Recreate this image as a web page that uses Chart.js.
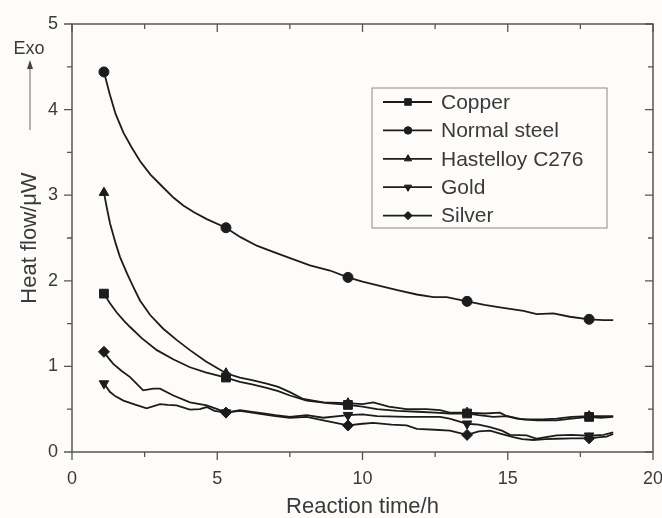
<!DOCTYPE html>
<html lang="en">
<head>
<meta charset="UTF-8">
<title>Heat flow vs reaction time</title>
<script src="https://cdn.jsdelivr.net/npm/chart.js"></script>
<style>
  html, body { margin: 0; padding: 0; background: #fdfcfa; }
  #wrap { width: 662px; height: 518px; }
</style>
</head>
<body>
<div id="wrap"><canvas id="chart"></canvas></div>
<script>
// axis ticks
const xTicks = [0, 5, 10, 15, 20];
const xMinor = [2.5, 7.5, 12.5, 17.5];
const yTicks = [0, 1, 2, 3, 4, 5];
const yMinor = [0.5, 1.5, 2.5, 3.5, 4.5];

// times where a symbol is drawn on each curve
const markerTimes = [1.1, 5.3, 9.5, 13.6, 17.8];

const seriesNames = ['Copper', 'Normal steel', 'Hastelloy C276', 'Gold', 'Silver'];

// [time (h), heat flow (uW)]
const copper = [[1.1, 1.85], [1.3, 1.74], [1.54, 1.63], [1.8, 1.53], [2.0, 1.46], [2.4, 1.33], [2.92, 1.19],
  [3.5, 1.08], [4.06, 0.99], [4.6, 0.93], [5.3, 0.87], [5.78, 0.82], [6.2, 0.79], [6.7, 0.75], [7.1, 0.71],
  [7.5, 0.66], [8.08, 0.60], [8.8, 0.57], [9.5, 0.55], [10.0, 0.53], [10.5, 0.50], [11.2, 0.48], [11.9, 0.47],
  [12.5, 0.46], [13.0, 0.45], [13.6, 0.45], [14.0, 0.43], [14.5, 0.41], [15.0, 0.42], [15.5, 0.38], [16.0, 0.37],
  [16.68, 0.37], [17.2, 0.39], [17.8, 0.41], [18.2, 0.40], [18.63, 0.41]];

const normalSteel = [[1.1, 4.44], [1.3, 4.18], [1.5, 3.95], [1.77, 3.73], [2.05, 3.56], [2.34, 3.40], [2.7, 3.24],
  [3.14, 3.09], [3.5, 2.97], [3.83, 2.88], [4.2, 2.80], [4.64, 2.72], [5.3, 2.62], [5.8, 2.51], [6.36, 2.41],
  [6.9, 2.34], [7.39, 2.28], [8.19, 2.18], [8.88, 2.12], [9.5, 2.04], [10.0, 1.99], [10.49, 1.95], [11.2, 1.89],
  [11.87, 1.84], [12.44, 1.81], [12.9, 1.81], [13.6, 1.76], [14.2, 1.72], [14.73, 1.69], [15.54, 1.65],
  [16.0, 1.61], [16.57, 1.62], [17.14, 1.58], [17.8, 1.55], [18.3, 1.54], [18.63, 1.54]];

const hastelloy = [[1.1, 3.03], [1.2, 2.85], [1.31, 2.67], [1.5, 2.44], [1.65, 2.28], [1.9, 2.08], [2.11, 1.93],
  [2.34, 1.77], [2.69, 1.60], [3.14, 1.44], [3.6, 1.31], [4.06, 1.19], [4.6, 1.06], [5.3, 0.92], [5.78, 0.87],
  [6.2, 0.84], [6.7, 0.80], [7.1, 0.76], [7.5, 0.70], [7.96, 0.62], [8.65, 0.58], [9.5, 0.57], [10.0, 0.56],
  [10.37, 0.58], [10.9, 0.53], [11.52, 0.50], [12.2, 0.50], [12.67, 0.49], [13.0, 0.46], [13.6, 0.46],
  [14.2, 0.45], [14.73, 0.46], [14.96, 0.42], [15.3, 0.39], [15.65, 0.38], [16.2, 0.38], [16.68, 0.39],
  [17.2, 0.41], [17.8, 0.42], [18.63, 0.42]];

const gold = [[1.1, 0.80], [1.31, 0.70], [1.5, 0.65], [1.77, 0.60], [2.2, 0.55], [2.57, 0.51], [3.03, 0.56],
  [3.3, 0.55], [3.6, 0.545], [4.06, 0.495], [4.4, 0.50], [4.64, 0.525], [4.9, 0.48], [5.3, 0.46], [5.78, 0.49],
  [6.2, 0.47], [6.59, 0.45], [7.0, 0.43], [7.5, 0.41], [8.08, 0.43], [8.65, 0.40], [9.5, 0.43], [10.0, 0.44],
  [10.5, 0.42], [11.52, 0.41], [12.67, 0.41], [13.0, 0.39], [13.6, 0.33], [14.0, 0.32], [14.39, 0.29],
  [14.8, 0.25], [15.08, 0.20], [15.65, 0.195], [16.0, 0.155], [16.68, 0.195], [17.2, 0.20], [17.8, 0.19],
  [18.3, 0.20], [18.63, 0.23]];

const silver = [[1.1, 1.17], [1.25, 1.10], [1.42, 1.03], [1.7, 0.95], [2.0, 0.875], [2.45, 0.72], [2.8, 0.74],
  [3.03, 0.74], [3.49, 0.66], [4.06, 0.58], [4.64, 0.545], [5.0, 0.50], [5.3, 0.46], [5.78, 0.48], [6.2, 0.46],
  [6.59, 0.44], [7.0, 0.42], [7.5, 0.40], [8.08, 0.41], [8.65, 0.37], [9.5, 0.31], [10.0, 0.33], [10.37, 0.34],
  [11.0, 0.32], [11.52, 0.31], [11.87, 0.27], [12.5, 0.26], [13.01, 0.25], [13.6, 0.20], [14.0, 0.24],
  [14.39, 0.25], [14.8, 0.21], [15.19, 0.175], [15.5, 0.15], [15.88, 0.14], [16.3, 0.15], [16.68, 0.155],
  [17.2, 0.16], [17.8, 0.16], [18.1, 0.17], [18.4, 0.18], [18.63, 0.21]];

const seriesData = [copper, normalSteel, hastelloy, gold, silver];
const symbols = [
  { pointStyle: 'rect', rotation: 0, radius: 6.2 },
  { pointStyle: 'circle', rotation: 0, radius: 5 },
  { pointStyle: 'triangle', rotation: 0, radius: 5.5 },
  { pointStyle: 'triangle', rotation: 180, radius: 5.5 },
  { pointStyle: 'rectRot', rotation: 0, radius: 5.5 }
];

const ink = '#1c1c1c';
const axisColor = '#555';
const textColor = '#3a3a3a';
const fontFamily = 'Arial, "Liberation Sans", Helvetica, sans-serif';

const datasets = seriesData.map((d, i) => ({
  label: seriesNames[i],
  data: d,
  borderColor: ink,
  backgroundColor: ink,
  borderWidth: 1.8,
  tension: 0,
  pointStyle: symbols[i].pointStyle,
  rotation: symbols[i].rotation,
  pointRadius: c => (c.type === 'data' && markerTimes.includes(c.parsed.x)) ? symbols[i].radius : 0,
  pointBorderWidth: 1,
  pointHoverRadius: 0
}));

// frame, tick marks, legend box and Exo arrow
const decorations = {
  id: 'decorations',
  beforeDraw(chart) {
    const ctx = chart.ctx;
    ctx.save();
    ctx.fillStyle = '#fdfcfa';
    ctx.fillRect(0, 0, chart.width, chart.height);
    ctx.restore();
  },
  afterDraw(chart) {
    const { ctx, chartArea: a, scales: { x, y } } = chart;
    ctx.save();
    ctx.strokeStyle = axisColor;
    ctx.lineWidth = 1.5;
    ctx.strokeRect(a.left, a.top, a.right - a.left, a.bottom - a.top);

    ctx.lineWidth = 1.3;
    ctx.beginPath();
    const tickX = (v, len) => {
      const px = x.getPixelForValue(v);
      ctx.moveTo(px, a.bottom); ctx.lineTo(px, a.bottom + len);
      ctx.moveTo(px, a.top); ctx.lineTo(px, a.top + len);
    };
    const tickY = (v, len) => {
      const py = y.getPixelForValue(v);
      ctx.moveTo(a.left, py); ctx.lineTo(a.left - len, py);
      ctx.moveTo(a.right, py); ctx.lineTo(a.right - len, py);
    };
    xTicks.forEach(v => tickX(v, 8));
    xMinor.forEach(v => tickX(v, 5));
    yTicks.forEach(v => tickY(v, 8));
    yMinor.forEach(v => tickY(v, 5));
    ctx.stroke();

    // legend
    const lx = a.left + 300, ly = a.top + 64, lw = 235, lh = 140;
    ctx.lineWidth = 1;
    ctx.strokeStyle = '#8a8a8a';
    ctx.strokeRect(lx, ly, lw, lh);
    ctx.font = '21px ' + fontFamily;
    ctx.textBaseline = 'middle';
    ctx.textAlign = 'left';
    seriesNames.forEach((name, i) => {
      const ry = ly + 14 + i * 28.4;
      ctx.strokeStyle = ink;
      ctx.lineWidth = 1.8;
      ctx.beginPath();
      ctx.moveTo(lx + 11, ry); ctx.lineTo(lx + 60, ry);
      ctx.stroke();
      ctx.fillStyle = ink;
      ctx.lineWidth = 1;
      Chart.helpers.drawPoint(ctx, {
        pointStyle: symbols[i].pointStyle,
        rotation: symbols[i].rotation,
        radius: symbols[i].radius * 0.75,
        borderWidth: 1
      }, lx + 36, ry);
      ctx.fillStyle = textColor;
      ctx.fillText(name, lx + 69, ry + 1);
    });

    // Exo arrow
    ctx.fillStyle = textColor;
    ctx.font = '18px ' + fontFamily;
    ctx.textAlign = 'center';
    ctx.fillText('Exo', 29, 49);
    ctx.strokeStyle = '#666';
    ctx.lineWidth = 1;
    ctx.beginPath();
    ctx.moveTo(30, 130); ctx.lineTo(30, 66);
    ctx.stroke();
    ctx.fillStyle = '#444';
    ctx.beginPath();
    ctx.moveTo(30, 60); ctx.lineTo(27, 69); ctx.lineTo(33, 69);
    ctx.closePath();
    ctx.fill();
    ctx.restore();
  }
};

new Chart(document.getElementById('chart'), {
  type: 'line',
  data: { datasets },
  plugins: [decorations],
  options: {
    responsive: true,
    maintainAspectRatio: false,
    animation: false,
    events: [],
    layout: { padding: { top: 24, right: 9, left: 0, bottom: 0 } },
    plugins: { legend: { display: false }, tooltip: { enabled: false } },
    scales: {
      x: {
        type: 'linear',
        min: 0, max: 20,
        afterBuildTicks: s => { s.ticks = xTicks.map(v => ({ value: v })); },
        afterFit: s => { s.height = 66; s.paddingLeft = 0; s.paddingRight = 0; },
        grid: { display: false, drawTicks: false },
        border: { display: false },
        ticks: { color: textColor, padding: 16, font: { size: 18, family: fontFamily }, maxRotation: 0 },
        title: { display: true, text: 'Reaction time/h', color: textColor,
          font: { size: 22, family: fontFamily, lineHeight: 1 }, padding: { top: 0, bottom: 0 } }
      },
      y: {
        min: 0, max: 5,
        afterBuildTicks: s => { s.ticks = yTicks.map(v => ({ value: v })); },
        afterFit: s => { s.width = 72; s.paddingTop = 0; s.paddingBottom = 0; },
        grid: { display: false, drawTicks: false },
        border: { display: false },
        ticks: { color: textColor, padding: 14, font: { size: 18, family: fontFamily } },
        title: { display: true, text: 'Heat flow/μW', color: textColor,
          font: { size: 22, family: fontFamily, lineHeight: 1 }, padding: { top: 19, bottom: 0 } }
      }
    }
  }
});
</script>
</body>
</html>
